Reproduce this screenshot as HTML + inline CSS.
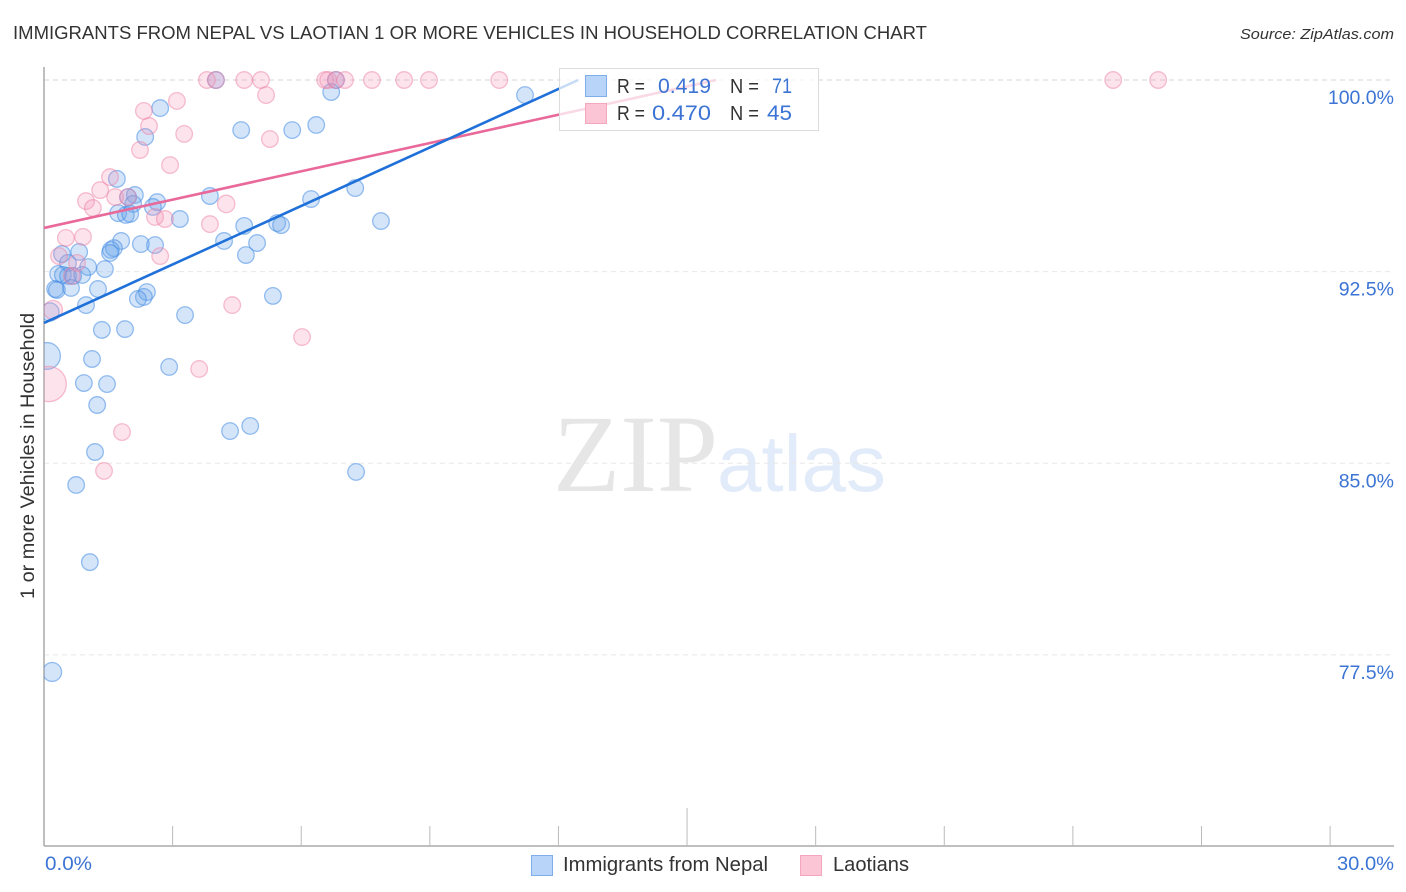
<!DOCTYPE html>
<html lang="en">
<head>
<meta charset="utf-8">
<title>Immigrants from Nepal vs Laotian 1 or More Vehicles in Household Correlation Chart</title>
<style>
html,body{margin:0;padding:0;background:#fff;}
svg{display:block;font-family:"Liberation Sans",sans-serif;}
</style>
</head>
<body>
<svg id="chart" width="1406" height="892" viewBox="0 0 1406 892" xmlns="http://www.w3.org/2000/svg">
  <defs><clipPath id="plot-clip"><rect x="44" y="60" width="1350" height="786"/></clipPath></defs>
  <text x="13" y="39" font-size="18.5" fill="#333" textLength="914" lengthAdjust="spacingAndGlyphs">IMMIGRANTS FROM NEPAL VS LAOTIAN 1 OR MORE VEHICLES IN HOUSEHOLD CORRELATION CHART</text>
  <text x="1394" y="39" font-size="15" font-style="italic" fill="#333" text-anchor="end" textLength="154" lengthAdjust="spacingAndGlyphs">Source: ZipAtlas.com</text>
  <text x="553" y="491" font-size="110" fill="#e6e6e6" style="font-family:'Liberation Serif',serif">ZIP</text>
  <text x="717" y="491" font-size="80" fill="#e1ebf9">atlas</text>
  <g id="grid"></g>
  <g id="axes"></g>
  <g id="blue-points" clip-path="url(#plot-clip)"></g>
  <g id="pink-points" clip-path="url(#plot-clip)"></g>
  <g id="trends"></g>
  <text transform="translate(34,456) rotate(-90)" font-size="19" fill="#333" text-anchor="middle" textLength="286" lengthAdjust="spacingAndGlyphs">1 or more Vehicles in Household</text>
  <g id="y-labels"></g>
  <text x="45" y="870" font-size="19.5" fill="#3b74d4" textLength="47" lengthAdjust="spacingAndGlyphs">0.0%</text>
  <text x="1394" y="870" font-size="19.5" fill="#3b74d4" text-anchor="end" textLength="57" lengthAdjust="spacingAndGlyphs">30.0%</text>

  <g>
    <rect x="559.5" y="68.5" width="259" height="62" fill="#fff" fill-opacity="0.75" stroke="#dcdcdc" stroke-width="1"/>
    <rect x="585.5" y="75.5" width="21" height="21" fill="#b8d4f8" stroke="#7fadea" stroke-width="1"/>
    <rect x="585.5" y="103.5" width="21" height="20" fill="#fcc5d6" stroke="#f4a6bf" stroke-width="1"/>
    <text x="617" y="93" font-size="20" fill="#333" textLength="28" lengthAdjust="spacingAndGlyphs">R =</text>
    <text x="658" y="93" font-size="21" fill="#3b74d4" textLength="53" lengthAdjust="spacingAndGlyphs">0.419</text>
    <text x="730" y="93" font-size="20" fill="#333" textLength="29" lengthAdjust="spacingAndGlyphs">N =</text>
    <text x="772" y="93" font-size="21" fill="#3b74d4" textLength="20" lengthAdjust="spacingAndGlyphs">71</text>
    <text x="617" y="120" font-size="20" fill="#333" textLength="28" lengthAdjust="spacingAndGlyphs">R =</text>
    <text x="652" y="120" font-size="21" fill="#3b74d4" textLength="59" lengthAdjust="spacingAndGlyphs">0.470</text>
    <text x="730" y="120" font-size="20" fill="#333" textLength="29" lengthAdjust="spacingAndGlyphs">N =</text>
    <text x="767" y="120" font-size="21" fill="#3b74d4" textLength="25" lengthAdjust="spacingAndGlyphs">45</text>
  </g>

  <g>
    <rect x="531.5" y="855.5" width="21" height="20" fill="#b8d4f8" stroke="#7fadea" stroke-width="1"/>
    <text x="563" y="871" font-size="20" fill="#333" textLength="205" lengthAdjust="spacingAndGlyphs">Immigrants from Nepal</text>
    <rect x="800.5" y="855.5" width="21" height="20" fill="#fcc5d6" stroke="#f4a6bf" stroke-width="1"/>
    <text x="833" y="871" font-size="20" fill="#333" textLength="76" lengthAdjust="spacingAndGlyphs">Laotians</text>
  </g>
</svg>
<script>
const yTicks = [100, 92.5, 85, 77.5];
const yTickLabels = ["100.0%", "92.5%", "85.0%", "77.5%"];
const xTicks = [0, 3, 6, 9, 12, 15, 18, 21, 24, 27, 30];

const blueX = [4.01,6.70,6.81,2.71,2.36,4.60,5.79,6.35,1.70,2.12,1.96,2.08,2.64,2.54,3.87,1.73,1.91,2.01,3.17,6.23,4.67,5.44,5.53,7.26,4.20,4.97,4.71,1.80,1.63,1.56,1.54,2.26,2.59,0.82,0.42,0.56,1.03,1.42,0.33,0.44,0.56,0.68,0.89,0.63,1.26,0.26,0.30,2.40,2.33,2.19,5.34,0.98,3.29,0.14,1.35,1.89,0.07,1.12,2.92,0.93,1.47,1.24,4.34,4.81,1.19,0.75,7.28,1.07,0.19,11.22,7.86];
const blueY = [100,99.53,100,98.90,97.77,98.04,98.04,98.24,96.13,95.50,95.42,95.15,95.22,95.03,95.46,94.79,94.72,94.76,94.56,95.34,94.29,94.40,94.32,95.77,93.70,93.62,93.15,93.70,93.42,93.35,93.23,93.58,93.54,93.27,93.19,92.84,92.68,92.60,92.41,92.37,92.33,92.33,92.37,91.86,91.82,91.82,91.78,91.70,91.51,91.43,91.55,91.19,90.80,90.92,90.22,90.25,89.20,89.08,88.77,88.14,88.10,87.28,86.26,86.46,85.44,84.15,84.66,81.13,76.83,99.41,94.48];
const blueCount = [1,1,1,1,1,1,1,1,1,1,1,1,1,1,1,1,1,1,1,1,1,1,1,1,1,1,1,1,1,1,1,1,1,1,1,1,1,1,1,1,1,1,1,1,1,1,1,1,1,1,1,1,1,1.2,1,1,2.6,1,1,1,1,1,1,1,1,1,1,1,1.3,1,1];

const pinkX = [3.80,4.01,4.67,5.06,5.18,6.56,6.63,6.81,7.02,7.65,8.40,8.98,10.62,24.94,25.99,3.10,2.33,2.45,3.27,5.27,2.24,2.94,1.54,1.31,0.98,1.14,1.66,1.96,4.25,3.87,2.59,2.82,0.51,0.91,0.35,2.71,0.77,0.65,0.21,4.39,6.02,3.62,1.82,1.40,0.11];
const pinkY = [100,100,100,100,99.41,100,100,100,100,100,100,100,100,100,100,99.18,98.79,98.20,97.89,97.69,97.26,96.67,96.20,95.69,95.26,94.99,95.42,95.42,95.15,94.36,94.64,94.56,93.82,93.86,93.11,93.11,92.84,92.33,91.00,91.19,89.94,88.69,86.22,84.70,88.10];
const pinkCount = [1,1,1,1,1,1,1,1,1,1,1,1,1,1,1,1,1,1,1,1,1,1,1,1,1,1,1,1,1.1,1,1,1,1,1,1,1,1,1,1.3,1,1,1,1,1,4.5];

const blueTrendX = [0, 12.46];
const blueTrendY = [90.49, 100];
const pinkTrendX = [0, 15.68];
const pinkTrendY = [94.21, 100];

const NS = "http://www.w3.org/2000/svg";
function xScale(v) { return 44 + v * 42.87; }
function yScale(v) { return 80 + (100 - v) * 25.55; }
function rScale(n) { return 8.3 * Math.sqrt(n); }
function make(tag, attrs) {
  const el = document.createElementNS(NS, tag);
  for (const k in attrs) el.setAttribute(k, attrs[k]);
  return el;
}

const gridG = document.getElementById("grid");
yTicks.forEach(function (t) {
  const line = make("line", {x1: 44, x2: 1394, y1: yScale(t), y2: yScale(t), stroke: t === 100 ? "#d4d4d4" : "#e8e8e8", "stroke-width": 1, "stroke-dasharray": "5 4"});
  
  
  gridG.appendChild(line);
});

const axesG = document.getElementById("axes");
const yAxisLine = make("line", {x1: 44, x2: 44, y1: 67, y2: 846, stroke: "#aaa", "stroke-width": 1.5});


axesG.appendChild(yAxisLine);
const xAxisLine = make("line", {x1: 44, x2: 1394, y1: 846, y2: 846, stroke: "#aaa", "stroke-width": 1.5});


axesG.appendChild(xAxisLine);
xTicks.slice(1).forEach(function (t) {
  const tick = make("line", {x1: xScale(t), x2: xScale(t), y1: t === 15 ? 808 : 826, y2: 846, stroke: "#bbb", "stroke-width": 1});
  
  
  axesG.appendChild(tick);
});

const yLabelG = document.getElementById("y-labels");
yTicks.forEach(function (t, i) {
  const label = make("text", {x: 1394, y: yScale(t) + 24, "font-size": 19.5, fill: "#3b74d4", "text-anchor": "end"});
  
  
  label.textContent = yTickLabels[i];
  yLabelG.appendChild(label);
});

const blueG = document.getElementById("blue-points");
blueX.forEach(function (v, i) {
  const c = make("circle", {cx: xScale(v), cy: yScale(blueY[i]), r: rScale(blueCount[i]), fill: "rgba(100,160,235,0.28)", stroke: "rgba(70,140,228,0.55)", "stroke-width": 1.3});
  
  
  blueG.appendChild(c);
});

const pinkG = document.getElementById("pink-points");
pinkX.forEach(function (v, i) {
  const c = make("circle", {cx: xScale(v), cy: yScale(pinkY[i]), r: rScale(pinkCount[i]), fill: "rgba(245,145,178,0.25)", stroke: "rgba(238,130,165,0.5)", "stroke-width": 1.3});
  
  
  pinkG.appendChild(c);
});

const trendG = document.getElementById("trends");
const pinkTrend = make("line", {x1: xScale(pinkTrendX[0]), y1: yScale(pinkTrendY[0]), x2: xScale(pinkTrendX[1]), y2: yScale(pinkTrendY[1]), stroke: "#e8699a", "stroke-width": 2.6});


trendG.appendChild(pinkTrend);
const blueTrend = make("line", {x1: xScale(blueTrendX[0]), y1: yScale(blueTrendY[0]), x2: xScale(blueTrendX[1]), y2: yScale(blueTrendY[1]), stroke: "#1f70d8", "stroke-width": 2.6});


trendG.appendChild(blueTrend);
</script>
</body>
</html>
